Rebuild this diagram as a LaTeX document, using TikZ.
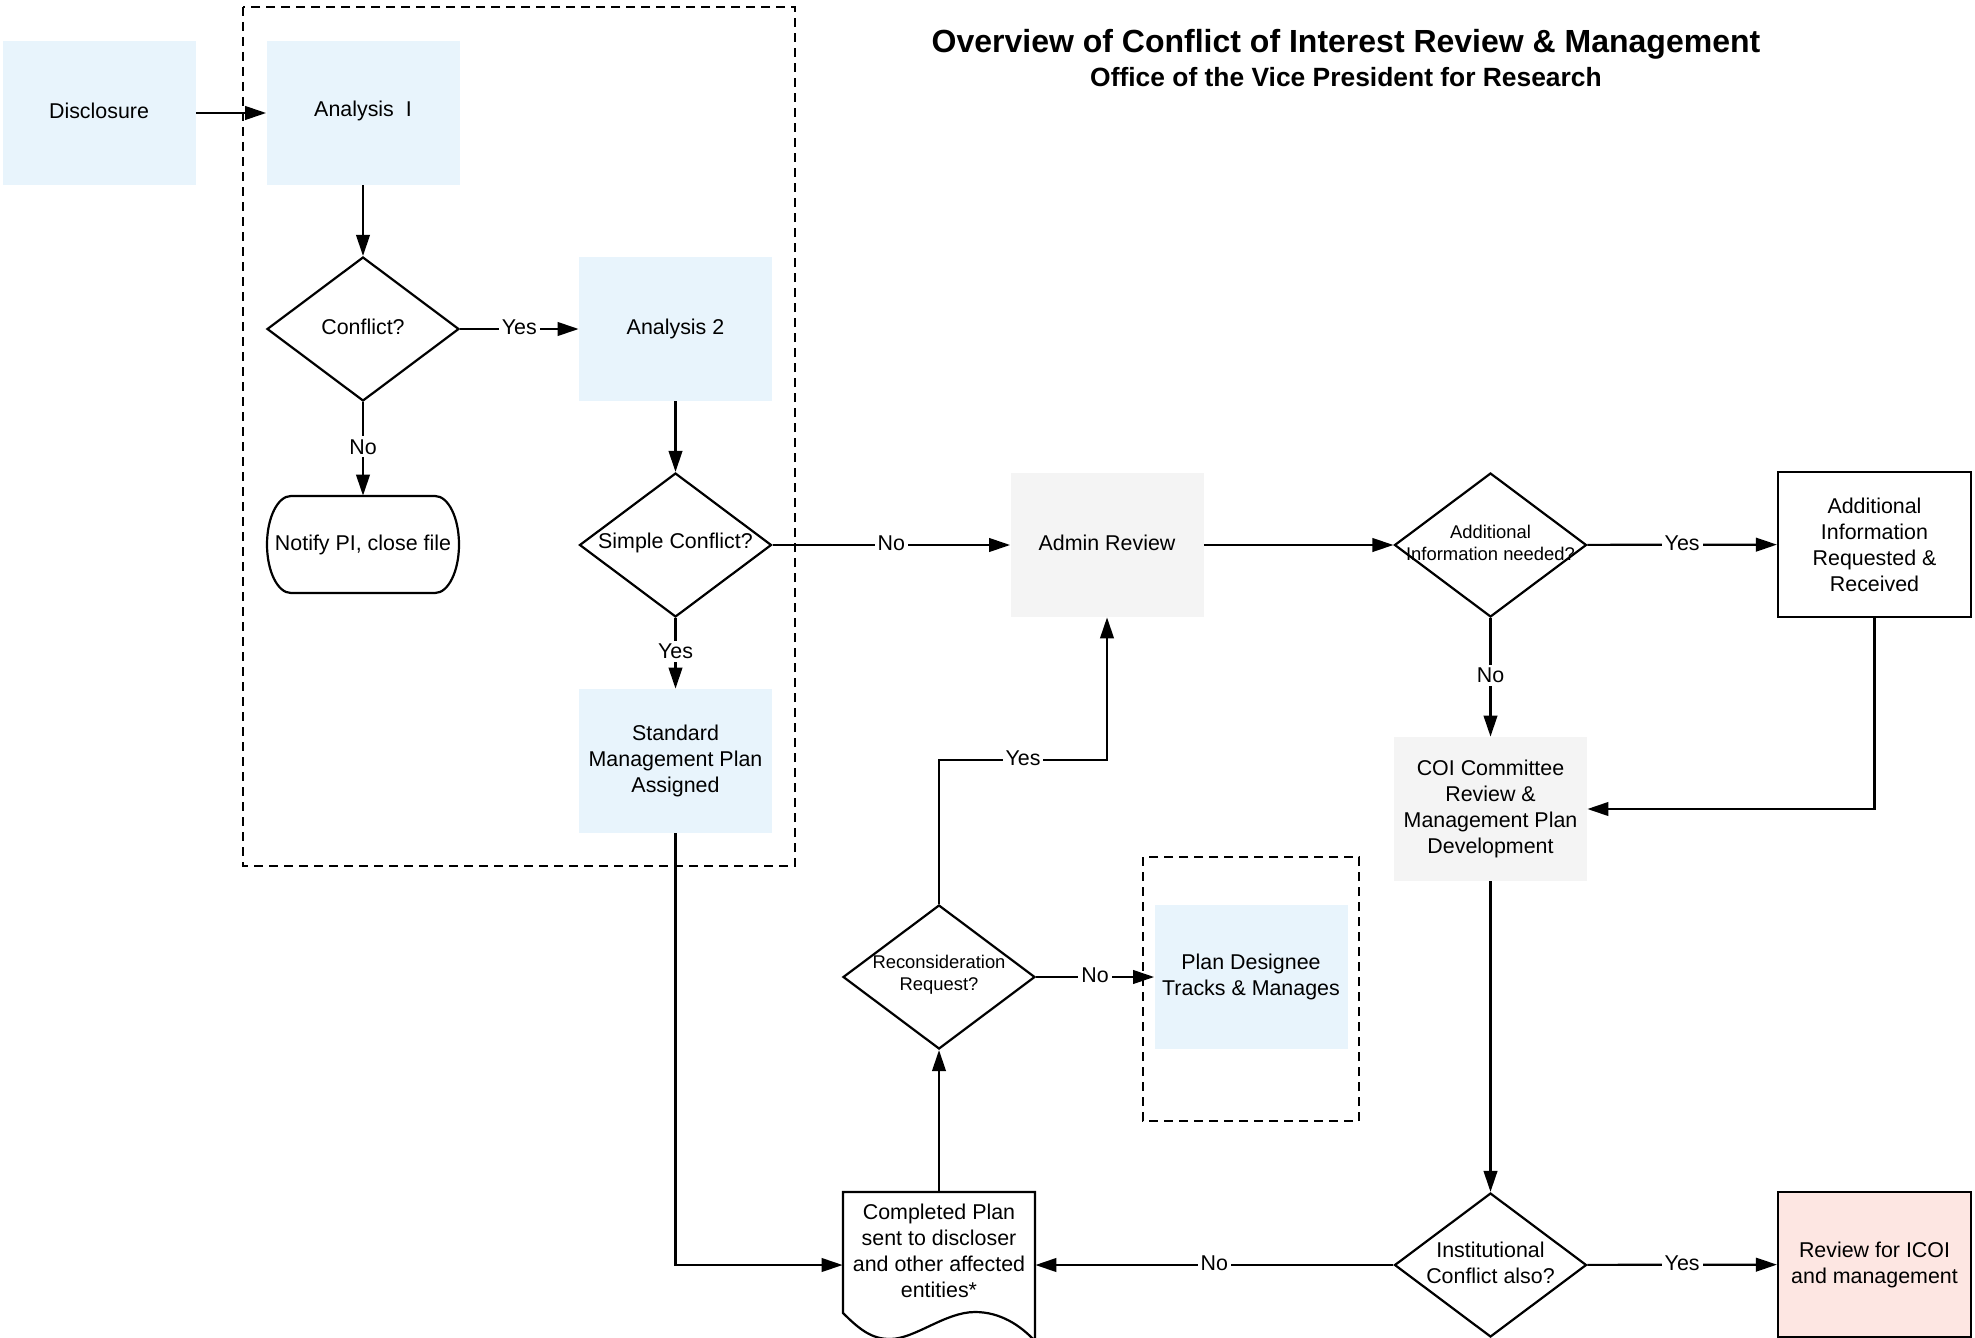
\documentclass[tikz,border=0pt]{standalone}
\usepackage{fontspec}
\setmainfont{Liberation Sans}
\usetikzlibrary{arrows.meta,shapes.geometric}
\definecolor{lblue}{HTML}{E8F4FC}
\definecolor{lgray}{HTML}{F4F4F4}
\definecolor{lpink}{HTML}{FDE6E2}
\newcommand\bodyf{\fontsize{10.7pt}{13pt}\selectfont}
\newcommand\smallf{\fontsize{9.2pt}{11pt}\selectfont}
\begin{document}
\begin{tikzpicture}[x=0.5pt,y=-0.5pt,
  base/.style={font=\bodyf, align=center, inner sep=0pt},
  bluebox/.style={base, rectangle, fill=lblue, minimum width=96.5pt, minimum height=72pt},
  graybox/.style={base, rectangle, fill=lgray, minimum width=96.5pt, minimum height=72pt},
  linebox/.style={base, rectangle, draw, line width=1.1pt, minimum width=96.5pt, minimum height=72.5pt},
  dia/.style={shape=diamond, draw, line width=1.1pt, minimum width=96pt, minimum height=72pt, inner sep=0pt},
  diatxt/.style={font=\bodyf, align=center, inner sep=0pt, yshift=1pt},
  diasmall/.style={font=\smallf, align=center, inner sep=0pt, yshift=1pt},
  uptxt/.style={font=\bodyf, align=center, inner sep=0pt, yshift=1.1pt},
  outline/.style={line width=1.1pt},
  arr/.style={line width=1.1pt, -{Triangle[length=10.5pt,width=6.8pt]}},
  lbl/.style={font=\bodyf, fill=white, inner sep=1.5pt, yshift=1pt},
  dbox/.style={draw, line width=1.1pt, dash pattern=on 4.5pt off 3pt}
]
\useasboundingbox (0,0) rectangle (1975,1338);

% dashed groups
\draw[dbox] (243,7) rectangle (795,866);
\draw[dbox] (1143,857) rectangle (1359,1121);

% title
\node[font=\bfseries\fontsize{16pt}{19pt}\selectfont, inner sep=0pt] (title) at (1346,44.5) {Overview of Conflict of Interest Review \& Management};
\node[font=\bfseries\fontsize{13.2pt}{16pt}\selectfont, inner sep=0pt] (subtitle) at (1346,77) {Office of the Vice President for Research};

% nodes
\node[bluebox, label={[uptxt]center:Disclosure}] (dis) at (99,113) {};
\node[bluebox, label={[uptxt]center:Analysis\ \ I}] (an1) at (363,113) {};
\node[dia, label={[diatxt]center:Conflict?}] (conf) at (363,329) {};
\node[base, minimum width=96pt, minimum height=48.5pt] (notify) at (363,544.5) {Notify PI, close file};
\draw[outline] (291,496) -- (435,496) .. controls (448.3,496) and (459,517.7) .. (459,544.5)
   .. controls (459,571.3) and (448.3,593) .. (435,593) -- (291,593)
   .. controls (277.7,593) and (267,571.3) .. (267,544.5)
   .. controls (267,517.7) and (277.7,496) .. (291,496) -- cycle;
\node[bluebox] (an2) at (675.5,329) {Analysis 2};
\node[dia, label={[diatxt]center:Simple Conflict?}] (simple) at (675.5,545) {};
\node[bluebox] (std) at (675.5,761) {Standard\\Management Plan\\Assigned};
\node[graybox, label={[uptxt]center:Admin Review}] (admin) at (1107,545) {};
\node[dia, label={[diasmall]center:Additional\\Information needed?}] (adddia) at (1490.5,545) {};
\node[linebox] (addbox) at (1874.5,544.5) {Additional\\Information\\Requested \&\\Received};
\node[graybox] (coi) at (1490.5,809) {COI Committee\\Review \&\\Management Plan\\Development};
\node[bluebox] (pd) at (1251,977) {Plan Designee\\Tracks \& Manages};
\node[dia, label={[diasmall]center:Reconsideration\\Request?}] (recon) at (939,977) {};
\node[dia, label={[diatxt]center:Institutional\\Conflict also?}] (inst) at (1490.5,1265) {};
\node[linebox, fill=lpink] (icoi) at (1874.5,1264.5) {Review for ICOI\\and management};

% document shape
\node[rectangle, inner sep=0pt, minimum width=96pt, minimum height=73pt] (comp) at (939,1265) {};
\draw[outline] (843,1313) .. controls (860,1330) and (872,1339) .. (890,1339)
   .. controls (915,1339) and (945,1312) .. (975,1312)
   .. controls (1000,1312) and (1020,1325) .. (1035,1341)
   -- (1035,1192) -- (843,1192) -- cycle;
\node[base] (comptxt) at (939,1251) {Completed Plan\\sent to discloser\\and other affected\\entities*};

\coordinate (rbend) at (1023,760);

% connectors
\draw[arr] (dis) -- (an1);
\draw[arr] (an1) -- (conf);
\draw[arr] (conf) -- node[lbl]{Yes} (an2);
\draw[arr] (conf) -- node[lbl]{No} (notify);
\draw[arr] (an2) -- (simple);
\draw[arr] (simple) -- node[lbl]{Yes} (std);
\draw[arr] (simple) -- node[lbl]{No} (admin);
\draw[arr] (admin) -- (adddia);
\draw[arr] (adddia) -- node[lbl]{Yes} (addbox);
\draw[arr] (adddia) -- node[lbl]{No} (coi);
\draw[arr] (addbox.south) |- (coi.east);
\draw[arr] (coi) -- (inst);
\draw[arr] (inst) -- node[lbl]{Yes} (icoi);
\draw[arr] (inst) -- node[lbl]{No} (comp);
\draw[arr] (std.south) |- (comp.west);
\draw[arr] (comp) -- (recon);
\draw[arr] (recon) -- node[lbl]{No} (pd);
\draw[arr] (recon.north) |- (rbend) node[lbl]{Yes} -| (admin.south);
\end{tikzpicture}
\end{document}
